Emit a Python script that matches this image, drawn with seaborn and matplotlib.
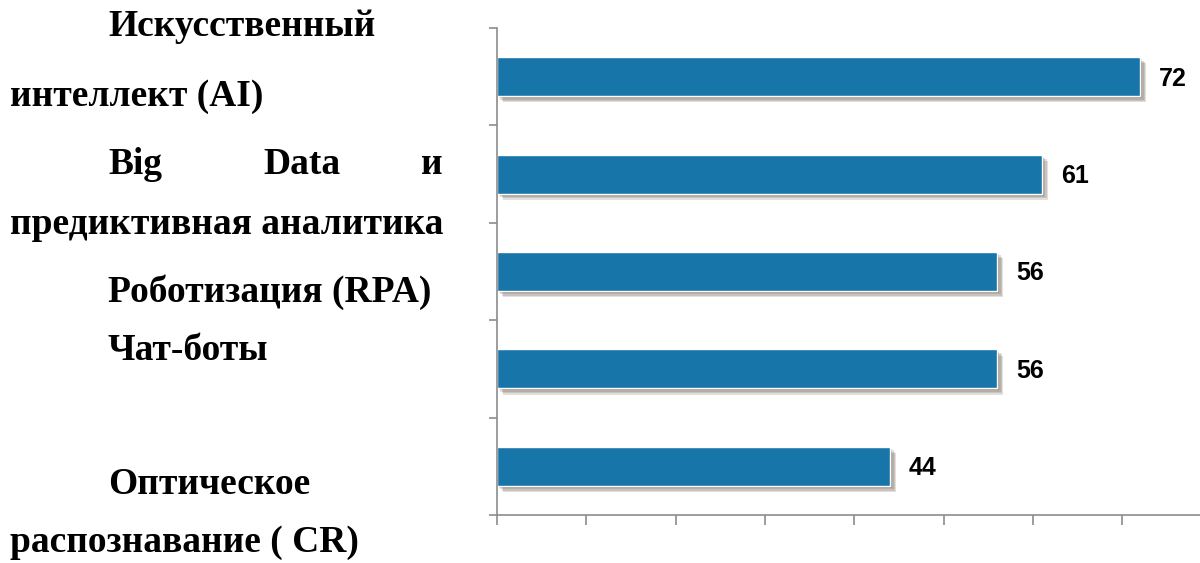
import numpy as np
import pandas as pd
import matplotlib
matplotlib.use("Agg")
import matplotlib.pyplot as plt
import matplotlib.patheffects as pe
import seaborn as sns

# ================================
# Data
# ================================

categories = [
    "Искусственный интеллект (AI)",
    "Big Data и предиктивная аналитика",
    "Роботизация (RPA)",
    "Чат-боты",
    "Оптическое распознавание ( CR)",
]

values = [72, 61, 56, 56, 44]

x_ticks = [0, 10, 20, 30, 40, 50, 60, 70]

# left paragraph lines: (text, indented)
para_lines = [
    ("Искусственный", True),
    ("интеллект (AI)", False),
    ("Big Data и", True),
    ("предиктивная аналитика", False),
    ("Роботизация (RPA)", True),
    ("Чат-боты", True),
    ("Оптическое", True),
    ("распознавание ( CR)", False),
]
para_y = [27, 97, 165, 225, 292, 350, 485, 543]

df = pd.DataFrame({"category": categories, "value": values})

# ================================
# Plot
# ================================

sns.set_theme(style="white")
plt.rcParams["font.family"] = ["Liberation Sans", "DejaVu Sans"]

W, H = 1200, 563
fig = plt.figure(figsize=(12, 5.63), dpi=100)
ax = fig.add_axes([497 / W, 1 - 515 / H, 1 - 497 / W, (515 - 28) / H])

bar_color = "#1775aa"

sns.barplot(
    data=df,
    x="value",
    y="category",
    orient="h",
    color=bar_color,
    width=0.4,
    saturation=1,
    ax=ax,
)

# soft drop shadow
shadow = [
    pe.SimplePatchShadow(offset=(o, -o), shadow_rgbFace="#5a4a40", alpha=0.18)
    for o in (1.5, 2.5, 3.5, 4.5)
]
for patch in ax.patches:
    patch.set_path_effects(shadow + [pe.Normal()])

ax.set_xlim(0, 78.7)
ax.set_ylim(len(categories) - 0.5, -0.5)

# value labels
for i, v in enumerate(values):
    ax.text(v + 2.1, i + 0.02, str(v), va="center", ha="left",
            fontsize=18, fontweight="bold", color="black")

ax.set_xticks(x_ticks)
ax.set_xticklabels([])
ax.set_yticks(np.arange(len(categories) + 1) - 0.5)
ax.set_yticklabels([])
ax.set_xlabel("")
ax.set_ylabel("")

ax.tick_params(axis="x", direction="out", length=7, width=1.2, color="#8c8c8c", bottom=True)
ax.tick_params(axis="y", direction="out", length=6, width=1.2, color="#8c8c8c", left=True)

for side in ["top", "right"]:
    ax.spines[side].set_visible(False)
for side in ["left", "bottom"]:
    ax.spines[side].set_color("#8c8c8c")
    ax.spines[side].set_linewidth(1.2)

# left paragraph text
serif = ["Liberation Serif", "DejaVu Serif"]
fs = 27
left_x = 10 / W
indent_x = 108 / W
right_x = 443 / W
for (txt, indented), y in zip(para_lines, para_y):
    yy = 1 - y / H
    if txt == "Big Data и":
        fig.text(indent_x, yy, "Big", ha="left", va="center", fontsize=fs,
                 fontweight="bold", family=serif, color="black")
        fig.text(302 / W, yy, "Data", ha="center", va="center", fontsize=fs,
                 fontweight="bold", family=serif, color="black")
        fig.text(right_x, yy, "и", ha="right", va="center", fontsize=fs,
                 fontweight="bold", family=serif, color="black")
    else:
        fig.text(indent_x if indented else left_x, yy, txt, ha="left", va="center",
                 fontsize=fs, fontweight="bold", family=serif, color="black")

fig.savefig("out.png", dpi=100)
